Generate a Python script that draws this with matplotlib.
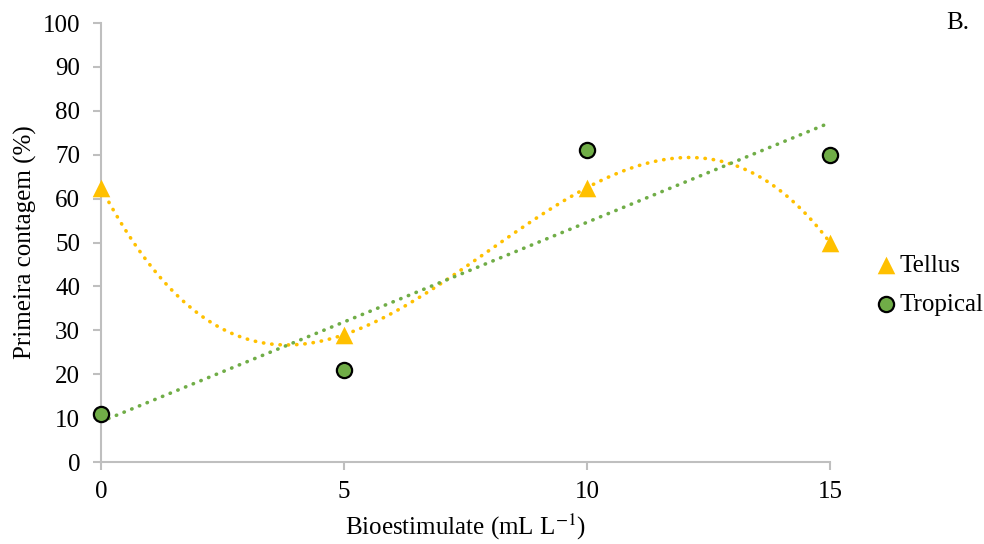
import numpy as np
import matplotlib
matplotlib.use("Agg")
import matplotlib.pyplot as plt

plt.rcParams['font.family'] = ['Liberation Serif', 'DejaVu Serif']
plt.rcParams['mathtext.fontset'] = 'stix'

doses = [0, 5, 10, 15]
tellus = [62.5, 29, 62.5, 50]
tropical = [11, 21, 71, 70]

yellow = '#FFC000'
green = '#70AD47'

fig = plt.figure(figsize=(9.84, 5.44), dpi=100)
ax = fig.add_axes([0.1026, 0.1507, 0.7409, 0.807])

# trendlines: cubic for Tellus, linear for Tropical
xs = np.linspace(0, 15, 300)
p3 = np.polyfit(doses, tellus, 3)
p1 = np.polyfit(doses, tropical, 1)
ax.plot(xs, np.polyval(p3, xs), color=yellow, lw=2.6, ls=(0, (0.1, 2.2)),
        dash_capstyle='round', zorder=2, clip_on=False)
ax.plot(xs, np.polyval(p1, xs), color=green, lw=2.6, ls=(0, (0.1, 2.2)),
        dash_capstyle='round', zorder=2, clip_on=False)

ax.scatter(doses, tellus, marker='^', s=160, color=yellow, lw=0, zorder=3,
           label='Tellus', clip_on=False)
ax.scatter(doses, tropical, marker='o', s=120, color=green, edgecolor='black',
           lw=1.6, zorder=3, label='Tropical', clip_on=False)

ax.set_xlim(0, 15)
ax.set_ylim(0, 100)
ax.set_xticks([0, 5, 10, 15])
ax.set_yticks(range(0, 101, 10))
for s in ['top', 'right']:
    ax.spines[s].set_visible(False)
for s in ['left', 'bottom']:
    ax.spines[s].set_color('#BFBFBF')
    ax.spines[s].set_linewidth(1.5)
ax.tick_params(axis='both', colors='#BFBFBF', labelcolor='black',
               labelsize=18, length=6, width=1.5, direction='out')
ax.tick_params(axis='y', pad=9)
ax.tick_params(axis='x', pad=8)

ax.set_xlabel('Bioestimulate (mL L$^{-1}$)', fontsize=18, labelpad=6)
ax.set_ylabel('Primeira contagem (%)', fontsize=18, labelpad=4)

ax.legend(loc='center left', bbox_to_anchor=(0.89, 0.476),
          bbox_transform=fig.transFigure, frameon=False, fontsize=18,
          handlelength=0.8, handletextpad=0.15, labelspacing=0.68,
          borderpad=0, borderaxespad=0)

fig.text(0.985, 0.958, 'B.', fontsize=18, ha='right', va='center')

fig.savefig('out.png', dpi=100)
